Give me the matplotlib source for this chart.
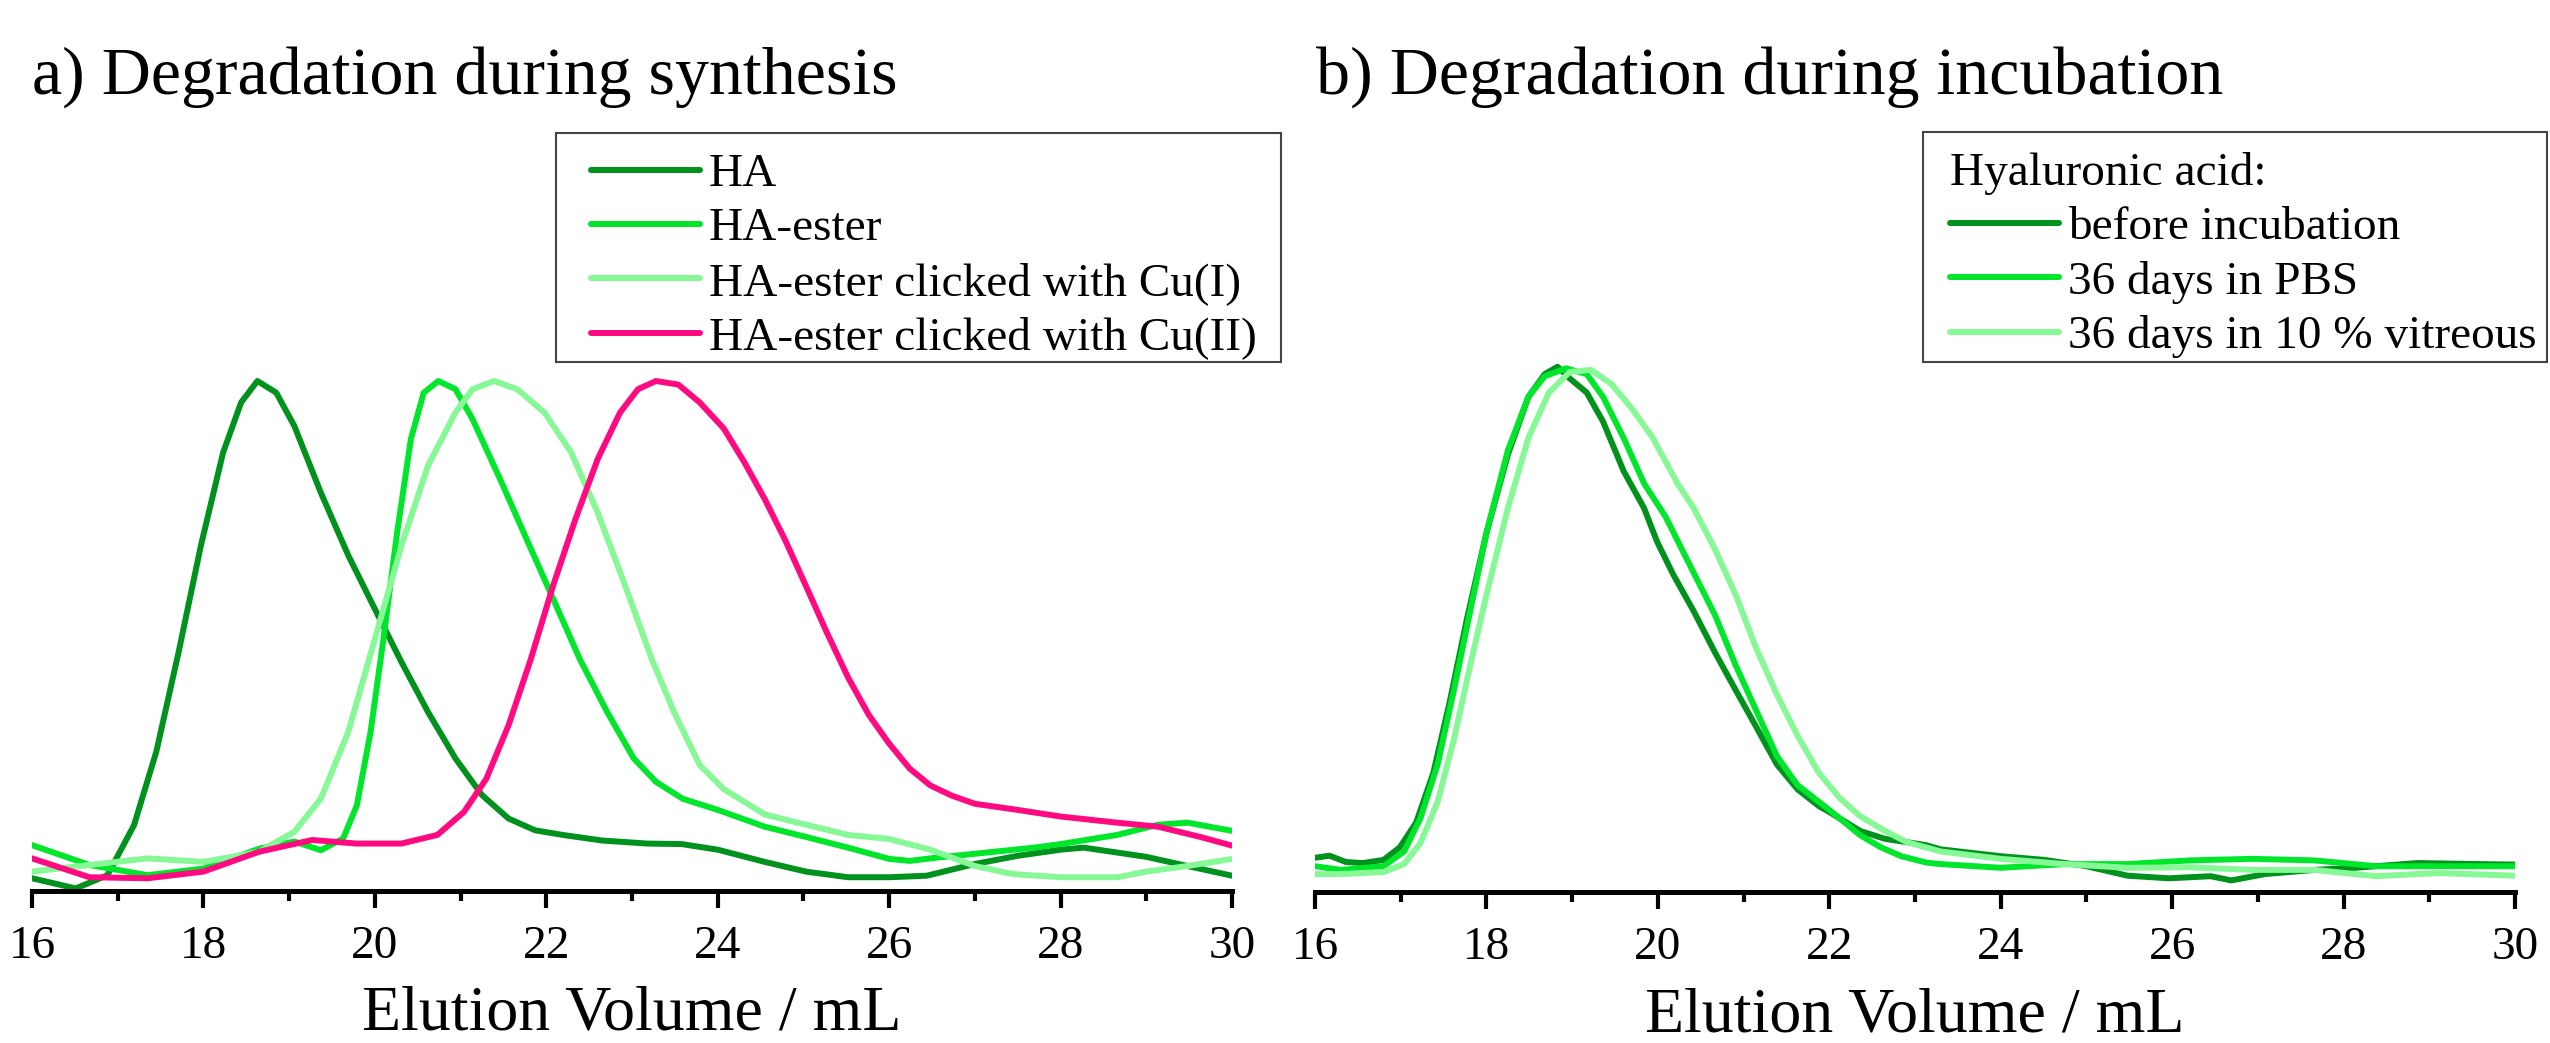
import matplotlib.pyplot as plt
from matplotlib.patches import Rectangle
from matplotlib.ticker import MultipleLocator

plt.rcParams['font.family'] = ['Liberation Serif', 'DejaVu Serif']

# colours of the traces
dark_green = '#00921c'
green = '#00e62a'
light_green = '#86f896'
pink = '#ff0a80'

# a) degradation during synthesis (normalised RI signal)
ha_x = [16.0, 16.51, 16.88, 17.19, 17.45, 17.71, 17.97, 18.23, 18.44, 18.63, 18.85, 19.06, 19.37,
        19.69, 20.0, 20.31, 20.62, 20.94, 21.25, 21.56, 21.87, 22.19, 22.65, 23.18, 23.58, 24.0,
        24.55, 25.03, 25.52, 26.0, 26.44, 27.0, 27.5, 28.0, 28.27, 29.0, 29.48, 30.0]
ha_y = [0.025, 0.005, 0.031, 0.129, 0.273, 0.468, 0.677, 0.86, 0.958, 1.0, 0.977, 0.912, 0.781,
        0.658, 0.553, 0.449, 0.351, 0.26, 0.188, 0.142, 0.119, 0.11, 0.099, 0.093, 0.092, 0.081,
        0.057, 0.038, 0.027, 0.027, 0.030, 0.053, 0.069, 0.081, 0.085, 0.067, 0.049, 0.030]

ester_x = [16.0, 16.67, 17.35, 18.0, 18.65, 19.06, 19.37, 19.63, 19.79, 19.95, 20.1, 20.26, 20.42,
           20.57, 20.74, 20.94, 21.14, 21.46, 21.77, 22.08, 22.39, 22.71, 23.02, 23.28, 23.59,
           24.0, 24.55, 25.03, 25.52, 26.0, 26.24, 26.53, 27.0, 27.69, 28.0, 28.66, 29.14, 29.48,
           30.0]
ester_y = [0.09, 0.051, 0.031, 0.044, 0.083, 0.097, 0.08, 0.103, 0.168, 0.312, 0.494, 0.703, 0.886,
           0.977, 1.0, 0.984, 0.925, 0.808, 0.69, 0.573, 0.455, 0.351, 0.26, 0.214, 0.181, 0.159,
           0.126, 0.106, 0.085, 0.063, 0.059, 0.065, 0.073, 0.085, 0.092, 0.11, 0.13, 0.134, 0.118]

cu1_x = [16.0, 16.67, 17.35, 18.0, 18.65, 19.06, 19.37, 19.69, 20.0, 20.31, 20.62, 20.94, 21.14,
         21.39, 21.66, 21.98, 22.29, 22.6, 22.92, 23.23, 23.49, 23.79, 24.07, 24.55, 25.03, 25.52,
         26.0, 26.48, 27.0, 27.45, 28.0, 28.66, 29.0, 29.48, 30.0]
cu1_y = [0.038, 0.051, 0.064, 0.057, 0.077, 0.116, 0.181, 0.312, 0.494, 0.677, 0.834, 0.938, 0.984,
         1.0, 0.984, 0.938, 0.86, 0.742, 0.599, 0.455, 0.351, 0.247, 0.2, 0.15, 0.13, 0.11, 0.102,
         0.081, 0.049, 0.033, 0.027, 0.027, 0.038, 0.049, 0.063]

cu2_x = [16.0, 16.67, 17.35, 18.0, 18.65, 19.27, 19.79, 20.31, 20.73, 21.04, 21.3, 21.56, 21.82,
         22.08, 22.34, 22.6, 22.86, 23.07, 23.28, 23.54, 23.79, 24.07, 24.31, 24.55, 24.79, 25.03,
         25.27, 25.52, 25.76, 26.0, 26.24, 26.48, 26.73, 27.0, 27.5, 28.0, 28.66, 29.14, 29.63,
         30.0]
cu2_y = [0.064, 0.027, 0.025, 0.038, 0.077, 0.1, 0.093, 0.093, 0.11, 0.155, 0.22, 0.325, 0.455,
         0.599, 0.729, 0.847, 0.938, 0.984, 1.0, 0.993, 0.958, 0.907, 0.841, 0.768, 0.687, 0.598,
         0.508, 0.419, 0.346, 0.289, 0.24, 0.207, 0.187, 0.171, 0.159, 0.146, 0.134, 0.126, 0.106,
         0.089]

# b) degradation during incubation
before_x = [16.0, 16.17, 16.36, 16.56, 16.8, 16.99, 17.18, 17.38, 17.57, 17.77, 18.0, 18.25, 18.49,
            18.68, 18.83, 18.97, 19.17, 19.36, 19.6, 19.84, 19.99, 20.18, 20.42, 20.67, 20.91,
            21.15, 21.39, 21.63, 21.88, 22.0, 22.36, 22.65, 23.13, 23.3, 24.0, 24.51, 25.0, 25.48,
            25.96, 26.45, 26.69, 27.08, 27.66, 28.14, 28.86, 29.59, 30.0]
before_y = [0.065, 0.069, 0.057, 0.055, 0.061, 0.085, 0.132, 0.226, 0.36, 0.517, 0.682, 0.831,
            0.941, 0.984, 0.998, 0.976, 0.949, 0.894, 0.8, 0.729, 0.666, 0.603, 0.533, 0.454,
            0.383, 0.313, 0.242, 0.195, 0.163, 0.152, 0.116, 0.101, 0.089, 0.081, 0.068, 0.061,
            0.049, 0.031, 0.026, 0.030, 0.022, 0.034, 0.042, 0.046, 0.055, 0.053, 0.052]

pbs_x = [16.0, 16.3, 16.8, 17.04, 17.23, 17.43, 17.62, 17.81, 18.0, 18.25, 18.49, 18.68, 18.93,
         19.17, 19.36, 19.6, 19.84, 20.09, 20.33, 20.67, 20.91, 21.15, 21.39, 21.63, 22.0, 22.36,
         22.6, 22.84, 23.13, 23.3, 24.0, 24.75, 25.48, 26.2, 26.93, 27.66, 28.38, 29.1, 30.0]
pbs_y = [0.049, 0.042, 0.049, 0.077, 0.14, 0.242, 0.383, 0.533, 0.682, 0.839, 0.941, 0.98, 0.995,
         0.984, 0.941, 0.863, 0.776, 0.713, 0.635, 0.525, 0.43, 0.344, 0.258, 0.203, 0.156, 0.108,
         0.085, 0.068, 0.056, 0.053, 0.046, 0.053, 0.053, 0.06, 0.063, 0.06, 0.049, 0.049, 0.049]

vitreous_x = [16.0, 16.3, 16.8, 17.04, 17.23, 17.43, 17.62, 17.81, 18.0, 18.25, 18.49, 18.73, 18.97,
              19.22, 19.46, 19.7, 19.94, 20.23, 20.42, 20.67, 20.91, 21.15, 21.39, 21.63, 21.88,
              22.12, 22.36, 22.65, 22.9, 23.3, 24.0, 24.75, 25.48, 26.2, 26.93, 27.66, 28.38,
              29.1, 30.0]
vitreous_y = [0.034, 0.034, 0.038, 0.053, 0.093, 0.171, 0.289, 0.43, 0.564, 0.729, 0.863, 0.949,
              0.988, 0.992, 0.965, 0.918, 0.863, 0.776, 0.729, 0.65, 0.564, 0.462, 0.375, 0.297,
              0.226, 0.179, 0.144, 0.116, 0.095, 0.077, 0.063, 0.053, 0.046, 0.047, 0.042, 0.042,
              0.03, 0.036, 0.031]

W, H = 2550, 1043
fig = plt.figure(figsize=(W / 100, H / 100), dpi=100)

ax1 = fig.add_axes([32 / W, 152 / H, 1200 / W, 758 / H])
ax2 = fig.add_axes([1315 / W, 151 / H, 1200 / W, 758 / H])

line_kw = dict(lw=4.3, solid_joinstyle='round', solid_capstyle='round')
ax1.plot(ha_x, ha_y, color=dark_green, label='HA', **line_kw)
ax1.plot(ester_x, ester_y, color=green, label='HA-ester', **line_kw)
ax1.plot(cu1_x, cu1_y, color=light_green, label='HA-ester clicked with Cu(I)', **line_kw)
ax1.plot(cu2_x, cu2_y, color=pink, label='HA-ester clicked with Cu(II)', **line_kw)

ax2.plot(before_x, before_y, color=dark_green, label='before incubation', **line_kw)
ax2.plot(pbs_x, pbs_y, color=green, label='36 days in PBS', **line_kw)
ax2.plot(vitreous_x, vitreous_y, color=light_green, label='36 days in 10 % vitreous', **line_kw)

ax1.set_ylim(0, 758 / 510)
ax2.set_ylim(0, 759 / 527)

for ax in (ax1, ax2):
    ax.set_xlim(16, 30)
    ax.set_facecolor('none')
    for s in ('left', 'right', 'top'):
        ax.spines[s].set_visible(False)
    ax.spines['bottom'].set_linewidth(3.6)
    ax.set_yticks([])
    ax.xaxis.set_major_locator(MultipleLocator(2))
    ax.xaxis.set_minor_locator(MultipleLocator(1))
    ax.tick_params(axis='x', which='major', length=12, width=3, labelsize=34, pad=13)
    ax.tick_params(axis='x', which='minor', length=7, width=3)
    ax.set_xlabel('Elution Volume / mL', fontsize=46, va='baseline')
    ax.xaxis.set_label_coords(0.5, -139 / 758)

fig.text(32 / W, 1 - 94 / H, 'a) Degradation during synthesis', fontsize=49, va='baseline')
fig.text(1316 / W, 1 - 94 / H, 'b) Degradation during incubation', fontsize=49, va='baseline')

# legends without their own frame, boxes drawn separately
leg_kw = dict(loc='upper left', bbox_transform=fig.transFigure, fontsize=34, frameon=False,
              borderaxespad=0, borderpad=0, handlelength=2.3, handletextpad=0.2,
              labelspacing=0.24)

ax1.legend(bbox_to_anchor=(591 / W, 1 - 153 / H), **leg_kw)
ax2.legend(bbox_to_anchor=(1950 / W, 1 - 152 / H), title='Hyaluronic acid:',
           title_fontsize=34, alignment='left', **leg_kw)

for x0, y0, x1, y1 in [(556, 133, 1281, 362), (1923, 132, 2547, 362)]:
    fig.add_artist(Rectangle((x0 / W, 1 - y1 / H), (x1 - x0) / W, (y1 - y0) / H,
                             transform=fig.transFigure, fill=False,
                             edgecolor='#444444', lw=1.5))

fig.savefig('out.png', dpi=100, facecolor='white')
